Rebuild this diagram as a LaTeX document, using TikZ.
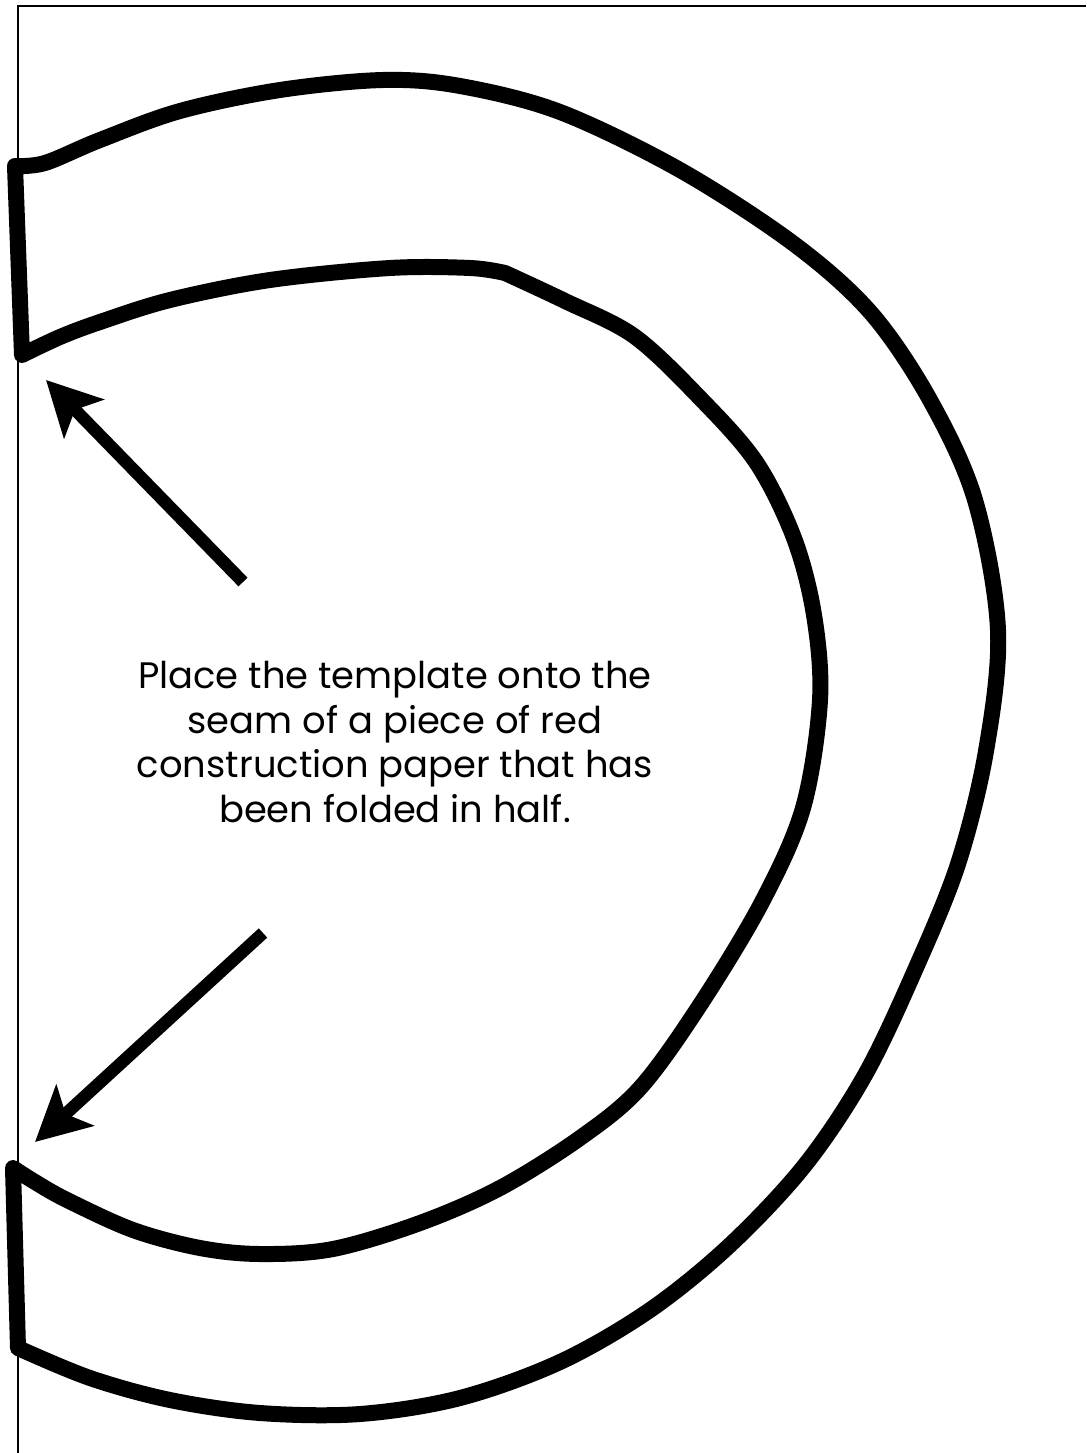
\documentclass[tikz,border=0pt]{standalone}
\usepackage{fontspec}
\setmainfont{Poppins}
\usetikzlibrary{arrows.meta}
\begin{document}
\begin{tikzpicture}[x=0.02cm, y=-0.02cm,
    kenar/.style={line width=0.32cm, line join=round, line cap=round},
    ok/.style={line width=0.25cm, -{Stealth[length=1.08cm, width=1.1cm, inset=0.25cm]}},
    yazi/.style={font=\fontsize{21}{25.6}\selectfont, align=center}]
  \useasboundingbox (0,0) rectangle (1086,1453);
  % cerceve: yalnizca ust ve sol kenar
  \draw[line width=0.04cm] (18,1453) -- (18,6) -- (1086,6);

  % sablon: dis kenar, sol alt kenar, ic kenar, sol ust kenar
  \draw[kenar] plot[smooth, tension=0.55] coordinates {(15,166) (45,163)
      (100,140) (180,111) (280,90) (383,80) (460,86) (560,112) (680,170)
      (794,244) (871,313) (930,400) (975,500) (998,630) (986,751) (958,864)
      (915,970) (865,1075) (805,1165) (730,1245) (650,1310) (560,1362)
      (460,1398) (360,1414) (260,1413) (170,1400) (90,1378) (18,1348)}
    -- plot[smooth, tension=0.55] coordinates {(13,1168) (35,1182) (67,1200)
      (133,1230) (200,1248) (260,1254) (333,1249) (420,1223) (500,1188)
      (580,1138) (640,1088) (700,1005) (762,902) (803,808) (820,700)
      (814,615) (794,538) (756,462) (699,397) (634,336) (565,301) (505,273)}
    -- plot[smooth, tension=0.55] coordinates {(505,273) (470,268) (390,268)
      (270,280) (170,300) (100,322) (60,337) (22,355)}
    -- cycle;

  % aciklama
  \node[yazi] (aciklama) at (395,742) {Place the template onto the\\
    seam of a piece of red\\ construction paper that has\\ been folded in half.};

  % oklar: katlama yerini gosterir
  \coordinate (ustbas) at (243,582);
  \coordinate (ustuc) at (46,380);
  \coordinate (altbas) at (263,933);
  \coordinate (altuc) at (35,1142);
  \draw[ok] (ustbas) -- (ustuc);
  \draw[ok] (altbas) -- (altuc);
\end{tikzpicture}
\end{document}
